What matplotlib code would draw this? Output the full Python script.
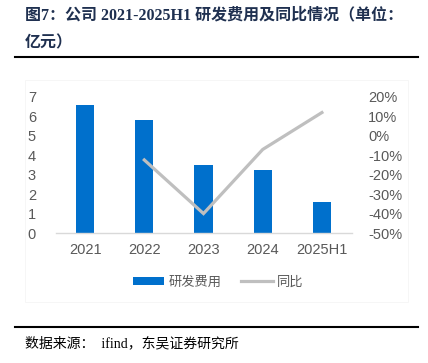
import matplotlib
matplotlib.use("Agg")
import matplotlib.pyplot as plt
from matplotlib.lines import Line2D
from matplotlib.patches import Patch, Rectangle

categories = ["2021", "2022", "2023", "2024", "2025H1"]
rd_expense = [6.6, 5.8, 3.5, 3.23, 1.6]
yoy_pct = [None, -12.4, -40.0, -7.0, 12.0]
left_ticks = [0, 1, 2, 3, 4, 5, 6, 7]
right_ticks = [-50, -40, -30, -20, -10, 0, 10, 20]

W, H = 428, 363
fig = plt.figure(figsize=(W / 100, H / 100), dpi=100)

cjk = ["Noto Sans CJK SC", "DejaVu Sans"]
serif_mix = ["Liberation Serif", "Noto Sans CJK SC"]
tick_font = ["Liberation Sans", "DejaVu Sans"]

# title
title_color = "#1F3050"
fig.text(25 / W, 1 - 15 / H, "图7：公司 2021-2025H1 研发费用及同比情况（单位：",
         family=serif_mix, fontsize=11.5, fontweight="bold", color=title_color,
         va="center", ha="left")
fig.text(25 / W, 1 - 43 / H, "亿元）", family=serif_mix, fontsize=11.5,
         fontweight="bold", color=title_color, va="center", ha="left")

# separators
fig.add_artist(Line2D([15 / W, 418 / W], [1 - 57 / H, 1 - 57 / H], color="black", lw=1.5))
fig.add_artist(Line2D([15 / W, 418 / W], [1 - 326.5 / H, 1 - 326.5 / H], color="black", lw=1.5))

# faint chart frame
fig.add_artist(Rectangle((25 / W, 1 - 302 / H), (408 - 25) / W, (302 - 80) / H,
                         fill=False, edgecolor="#F6F6F6", lw=0.7))

# source
fig.text(25 / W, 1 - 343 / H, "数据来源：  ifind，东吴证券研究所", family=serif_mix,
         fontsize=10, color="black", va="center", ha="left")

ax = fig.add_axes([55.5 / W, 1 - 233 / H, 296 / W, 136 / H])
x = list(range(len(categories)))
ax.bar(x, rd_expense, width=0.31, color="#0070CC", zorder=2)
ax.set_xlim(-0.5, len(categories) - 0.5)
ax.set_ylim(0, 7)
ax.set_yticks(left_ticks)
ax.set_xticks(x)
ax.set_xticklabels(categories)
for s in ["top", "right", "left"]:
    ax.spines[s].set_visible(False)
ax.spines["bottom"].set_color("#D9D9D9")
ax.spines["bottom"].set_linewidth(1)
ax.tick_params(axis="both", length=0, colors="#595959", labelsize=10.5)
ax.tick_params(axis="y", pad=14)
ax.tick_params(axis="x", pad=7)
for lab in ax.get_xticklabels() + ax.get_yticklabels():
    lab.set_family(tick_font)
for lab in ax.get_yticklabels():
    lab.set_horizontalalignment("right")

ax2 = ax.twinx()
xs = [i for i, v in zip(x, yoy_pct) if v is not None]
ys = [v for v in yoy_pct if v is not None]
ax2.plot(xs, ys, color="#BFBFBF", lw=2.3, zorder=3, solid_joinstyle="miter")
ax2.set_ylim(-50, 20)
ax2.set_yticks(right_ticks)
ax2.set_yticklabels([f"{t}%" for t in right_ticks])
for s in ["top", "right", "left", "bottom"]:
    ax2.spines[s].set_visible(False)
ax2.tick_params(axis="y", length=0, colors="#595959", labelsize=10.5, pad=12)
for lab in ax2.get_yticklabels():
    lab.set_family(tick_font)

handles = [Patch(facecolor="#0070CC", edgecolor="none"),
           Line2D([0], [0], color="#BFBFBF", lw=2.3)]
leg = fig.legend(handles, ["研发费用", "同比"], loc="center",
                 bbox_to_anchor=(218 / W, 1 - 282 / H), ncol=2, frameon=False,
                 prop={"family": cjk, "size": 9.5}, handlelength=2.4,
                 handleheight=0.6, columnspacing=1.5, handletextpad=0.3)
for t in leg.get_texts():
    t.set_color("#595959")

fig.savefig("out.png", dpi=100)
